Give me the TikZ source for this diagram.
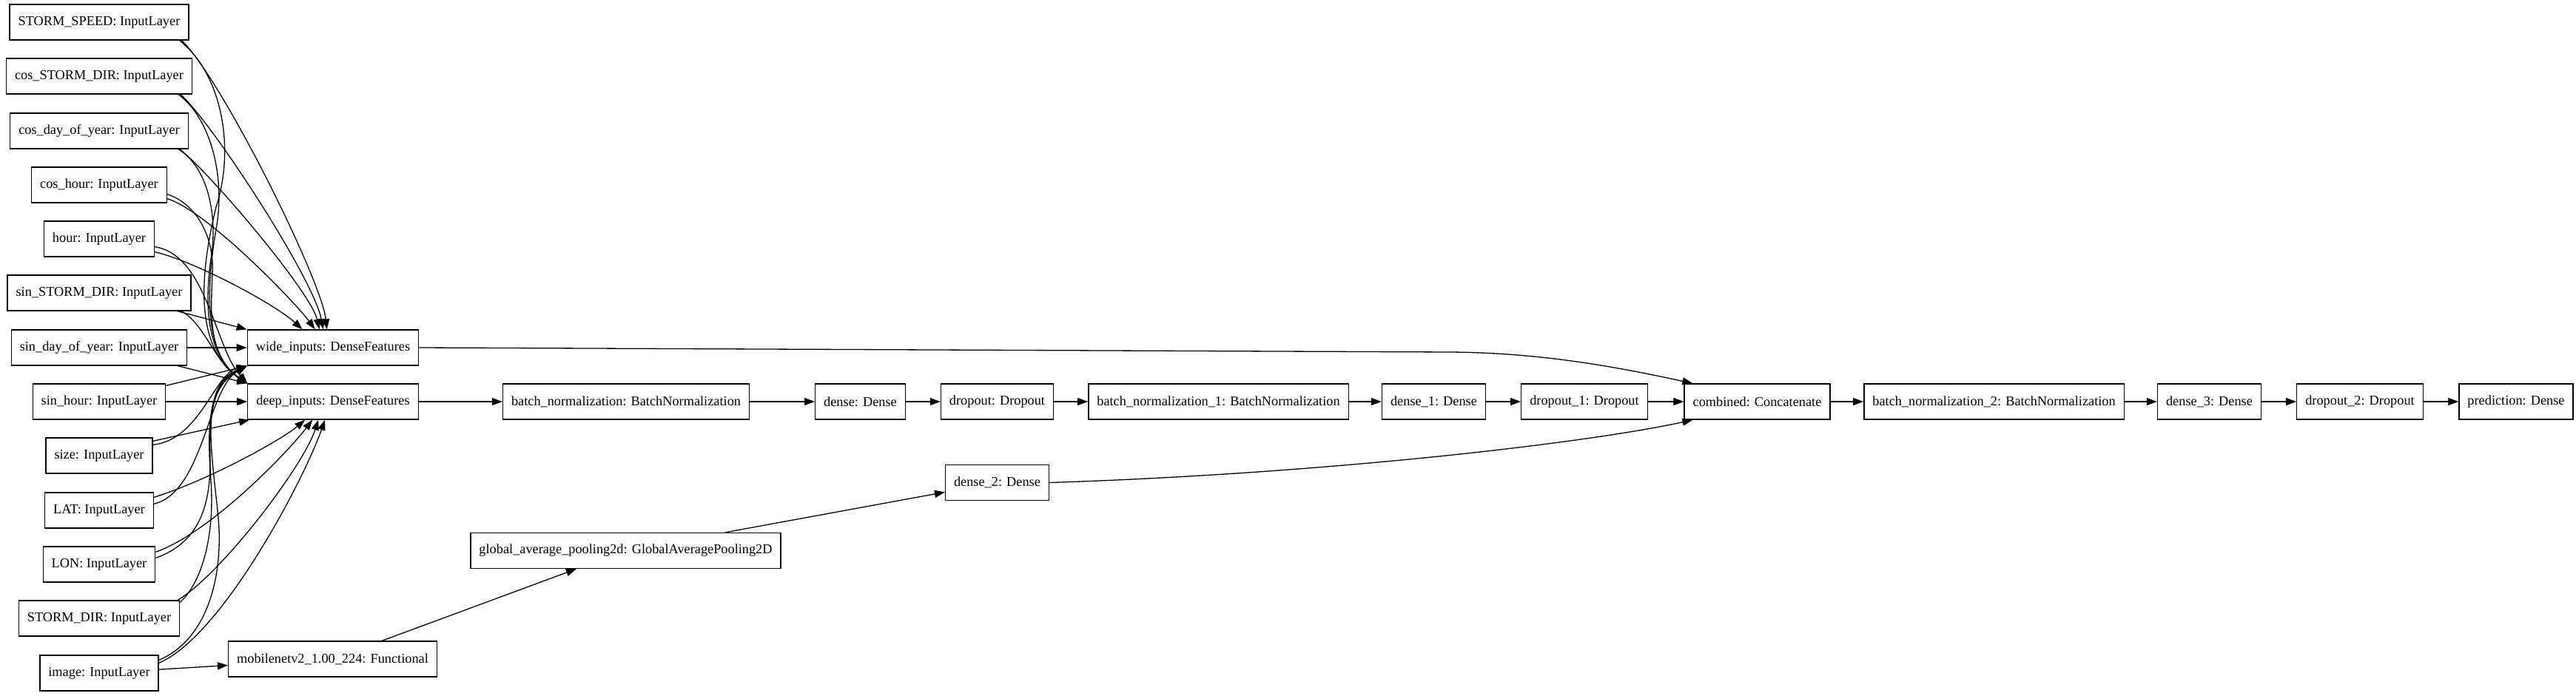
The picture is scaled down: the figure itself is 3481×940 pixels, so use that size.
\documentclass[tikz,border=0pt]{standalone}
\usepackage{fontspec}
\setmainfont{Liberation Serif}
\usetikzlibrary{arrows.meta}
\begin{document}
\begin{tikzpicture}[x=1pt,y=-1pt,
  layer/.style={draw, line width=1.3pt, minimum height=48pt, inner xsep=11.5pt, inner ysep=0pt,
    font=\fontsize{18.3}{20}\selectfont},
  edge/.style={line width=1.3pt, -{Triangle[length=14pt,width=10pt]}}]
\useasboundingbox (0,0) rectangle (3481,940);

% input layers
\node[layer] (ss)  at (134,30)  {STORM\_SPEED: InputLayer};
\node[layer] (csd) at (134,103) {cos\_STORM\_DIR: InputLayer};
\node[layer] (cdy) at (134,177) {cos\_day\_of\_year: InputLayer};
\node[layer] (ch)  at (134,250) {cos\_hour: InputLayer};
\node[layer] (hr)  at (134,323) {hour: InputLayer};
\node[layer] (ssd) at (134,396) {sin\_STORM\_DIR: InputLayer};
\node[layer] (sdy) at (134,470) {sin\_day\_of\_year: InputLayer};
\node[layer] (sh)  at (134,543) {sin\_hour: InputLayer};
\node[layer] (sz)  at (134,616) {size: InputLayer};
\node[layer] (lat) at (134,690) {LAT: InputLayer};
\node[layer] (lon) at (134,763) {LON: InputLayer};
\node[layer] (sd)  at (134,836) {STORM\_DIR: InputLayer};
\node[layer] (img) at (134,910) {image: InputLayer};

% feature layers
\node[layer] (wide) at (450,470) {wide\_inputs: DenseFeatures};
\node[layer] (deep) at (450,543) {deep\_inputs: DenseFeatures};
\node[layer] (mob)  at (449.5,891) {mobilenetv2\_1.00\_224: Functional};
\node[layer] (gap)  at (845.5,744.5) {global\_average\_pooling2d: GlobalAveragePooling2D};
\node[layer] (d2)   at (1347.5,652.5) {dense\_2: Dense};

% main chain
\node[layer] (bn)   at (846,543)    {batch\_normalization: BatchNormalization};
\node[layer] (dn)   at (1162.5,543) {dense: Dense};
\node[layer] (dr)   at (1347.5,543) {dropout: Dropout};
\node[layer] (bn1)  at (1646.5,543) {batch\_normalization\_1: BatchNormalization};
\node[layer] (dn1)  at (1937.5,543) {dense\_1: Dense};
\node[layer] (dr1)  at (2141,543)   {dropout\_1: Dropout};
\node[layer] (cmb)  at (2374.5,543) {combined: Concatenate};
\node[layer] (bn2)  at (2694.5,543) {batch\_normalization\_2: BatchNormalization};
\node[layer] (dn3)  at (2985.5,543) {dense\_3: Dense};
\node[layer] (dr2)  at (3189,543)   {dropout\_2: Dropout};
\node[layer] (pred) at (3400,543)   {prediction: Dense};

% ---- upper inputs -> wide (from top)
\draw[edge] ([xshift=-10pt]ss.south east)  .. controls (300,107) and (435,380) .. ([xshift=108pt]wide.north west);
\draw[edge] ([xshift=-16pt]csd.south east) .. controls (290,170) and (425,380) .. ([xshift=103pt]wide.north west);
\draw[edge] ([xshift=-12pt]cdy.south east) .. controls (285,235) and (420,395) .. ([xshift=98pt]wide.north west);
\draw[edge] ([yshift=6pt]ch.south east)    .. controls (280,285) and (400,410) .. ([xshift=92pt]wide.north west);
\draw[edge] ([yshift=7pt]hr.south east)    .. controls (260,352) and (370,410) .. ([xshift=75pt]wide.north west);

% ---- upper inputs -> deep (top-left corner)
\draw[edge] ([xshift=-13pt]ss.south east)  .. controls (300,100) and (318,200) .. (292,280)
            .. controls (270,370) and (262,470) .. (deep.north west);
\draw[edge] ([xshift=-19pt]csd.south east) .. controls (285,160) and (305,240) .. (292,310)
            .. controls (282,370) and (270,475) .. (deep.north west);
\draw[edge] ([xshift=-14pt]cdy.south east) .. controls (280,225) and (295,290) .. (285,350)
            .. controls (278,400) and (275,478) .. (deep.north west);
\draw[edge] ([yshift=12pt]ch.south east)   .. controls (265,275) and (290,320) .. (287,370)
            .. controls (285,420) and (280,482) .. (deep.north west);
\draw[edge] ([yshift=14pt]hr.south east)   .. controls (280,345) and (290,470) .. (deep.north west);

% ---- middle inputs
\draw[edge] ([xshift=-19pt]ssd.south east) -- (wide.north west);
\draw[edge] ([xshift=-14pt]ssd.south east) .. controls (275,435) and (290,490) .. (deep.north west);
\draw[edge] (sdy.east) -- (wide.west);
\draw[edge] ([xshift=-13pt]sdy.south east) -- (deep.north west);
\draw[edge] (sh.east) -- (deep.west);
\draw[edge] ([yshift=-3pt]sh.north east) -- (wide.south west);
\draw[edge] ([yshift=-5pt]sz.north east) -- ([xshift=3pt]deep.south west);
\draw[edge] ([yshift=-10pt]sz.north east) .. controls (270,595) and (290,505) .. (wide.south west);

% ---- lower inputs -> deep (from bottom)
\draw[edge] ([yshift=-7pt]lat.north east) .. controls (280,650) and (380,595) .. ([xshift=78pt]deep.south west);
\draw[edge] ([yshift=-8pt]lon.north east) .. controls (285,720) and (390,610) .. ([xshift=88pt]deep.south west);
\draw[edge] ([xshift=-3pt]sd.north east)  .. controls (300,775) and (410,630) .. ([xshift=96pt]deep.south west);
\draw[edge] ([yshift=-11pt]img.north east) .. controls (300,860) and (410,650) .. ([xshift=105pt]deep.south west);

% ---- lower inputs -> wide (bottom-left corner)
\draw[edge] ([yshift=-16pt]lat.north east) .. controls (275,665) and (280,525) .. (wide.south west);
\draw[edge] ([yshift=-16pt]lon.north east) .. controls (265,735) and (285,690) .. (284,620)
            .. controls (283,560) and (285,515) .. (wide.south west);
\draw[edge] ([yshift=-3pt]sd.north east)  .. controls (275,785) and (290,720) .. (285,650)
            .. controls (280,580) and (280,520) .. (wide.south west);
\draw[edge] ([yshift=-7pt]img.north east) .. controls (280,865) and (302,780) .. (295,700)
            .. controls (285,600) and (270,530) .. (wide.south west);

% ---- image branch
\draw[edge] (img) -- (mob);
\draw[edge] (mob) -- (gap);
\draw[edge] (gap) -- (d2);

% ---- main chain
\draw[edge] (deep) -- (bn);
\draw[edge] (bn) -- (dn);
\draw[edge] (dn) -- (dr);
\draw[edge] (dr) -- (bn1);
\draw[edge] (bn1) -- (dn1);
\draw[edge] (dn1) -- (dr1);
\draw[edge] (dr1) -- (cmb);
\draw[edge] (cmb) -- (bn2);
\draw[edge] (bn2) -- (dn3);
\draw[edge] (dn3) -- (dr2);
\draw[edge] (dr2) -- (pred);

% ---- merges into combined
\draw[edge] (wide.east) -- (1960,476) .. controls (2080,477) and (2180,495) .. ([xshift=12pt]cmb.north west);
\draw[edge] (d2.east) .. controls (1800,640) and (2150,598) .. ([xshift=12pt]cmb.south west);
\end{tikzpicture}
\end{document}
